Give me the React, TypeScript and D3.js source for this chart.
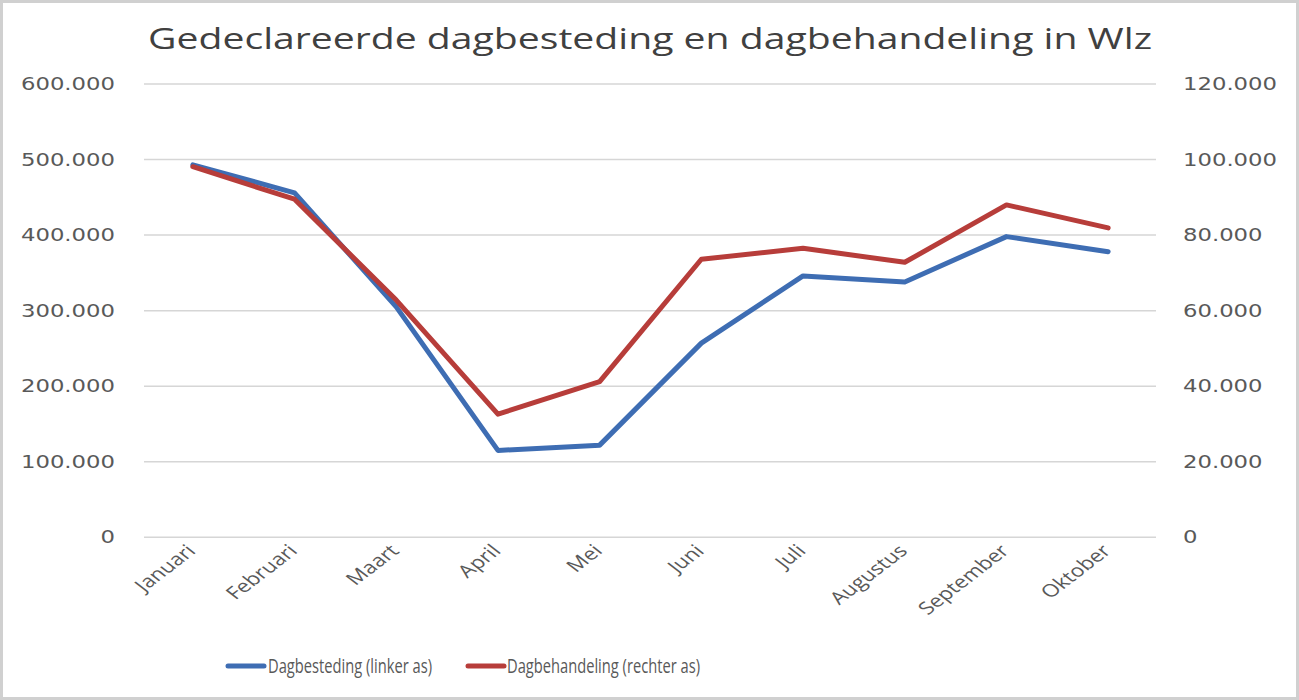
import React from "react";
import * as d3 from "d3";

const months = ["Januari", "Februari", "Maart", "April", "Mei", "Juni", "Juli", "Augustus", "September", "Oktober"];
const dagbesteding = [493000, 456000, 305000, 115000, 122000, 257000, 346000, 338000, 398000, 378000];
const dagbehandeling = [98100, 89500, 62800, 32600, 41200, 73600, 76500, 72800, 88000, 81900];
const leftTicks = [0, 100000, 200000, 300000, 400000, 500000, 600000];
const rightTicks = [0, 20000, 40000, 60000, 80000, 100000, 120000];
const title = "Gedeclareerde dagbesteding en dagbehandeling in Wlz";
const seriesNames = ["Dagbesteding (linker as)", "Dagbehandeling (rechter as)"];

const W = 1299, H = 700;
const BLUE = "#3E6DB3";
const RED = "#B73D3A";
const nl = d3.formatLocale({ decimal: ",", thousands: ".", grouping: [3], currency: ["€", ""] });
const fmt = nl.format(",");

export default function App() {
  const x = d3.scalePoint<string>().domain(months).range([142, 1159]).padding(0.5);
  const yL = d3.scaleLinear().domain([0, 600000]).range([537.3, 84]);
  const yR = d3.scaleLinear().domain([0, 120000]).range([537.3, 84]);
  const lineL = d3.line<number>().x((_, i) => x(months[i])!).y((d) => yL(d));
  const lineR = d3.line<number>().x((_, i) => x(months[i])!).y((d) => yR(d));
  const SX = 1.3;
  const tickFont = "'DejaVu Sans', Verdana, sans-serif";
  const textFont = "'Open Sans', 'Noto Sans', sans-serif";
  return (
    <svg width={W} height={H} style={{ position: "absolute", left: 0, top: 0, background: "#fff" }}>
      <rect x={1.5} y={1.5} width={W - 3} height={H - 3} fill="#fff" stroke="#d0d0d0" strokeWidth={3} />
      <text x={148} y={49} fontFamily={textFont} fontSize={29} fill="#404040" textLength={1004} lengthAdjust="spacingAndGlyphs">
        {title}
      </text>
      {leftTicks.map((t) => (
        <line key={"g" + t} x1={144} x2={1156} y1={yL(t)} y2={yL(t)} stroke="#d6d6d6" strokeWidth={1.5} />
      ))}
      {leftTicks.map((t) => (
        <text key={"l" + t} transform={`translate(115,${yL(t) + 6}) scale(${SX},1)`} textAnchor="end" fontFamily={tickFont} fontSize={17.5} fill="#595959">
          {fmt(t)}
        </text>
      ))}
      {rightTicks.map((t) => (
        <text key={"r" + t} transform={`translate(1183,${yR(t) + 6}) scale(${SX},1)`} textAnchor="start" fontFamily={tickFont} fontSize={17.5} fill="#595959">
          {fmt(t)}
        </text>
      ))}
      {months.map((m) => (
        <text key={m} transform={`translate(${x(m)! + 4},${552}) scale(${SX},1) rotate(-45)`} textAnchor="end" fontFamily={textFont} fontSize={17.5} fill="#595959">
          {m}
        </text>
      ))}
      <path d={lineL(dagbesteding)!} fill="none" stroke={BLUE} strokeWidth={5} strokeLinejoin="round" strokeLinecap="round" />
      <path d={lineR(dagbehandeling)!} fill="none" stroke={RED} strokeWidth={5} strokeLinejoin="round" strokeLinecap="round" />
      <line x1={228} x2={264} y1={666} y2={666} stroke={BLUE} strokeWidth={5} strokeLinecap="round" />
      <text x={268} y={673} fontFamily={textFont} fontSize={20} fill="#595959" textLength={164} lengthAdjust="spacingAndGlyphs">
        {seriesNames[0]}
      </text>
      <line x1={468} x2={504} y1={666} y2={666} stroke={RED} strokeWidth={5} strokeLinecap="round" />
      <text x={507} y={673} fontFamily={textFont} fontSize={20} fill="#595959" textLength={193} lengthAdjust="spacingAndGlyphs">
        {seriesNames[1]}
      </text>
    </svg>
  );
}
